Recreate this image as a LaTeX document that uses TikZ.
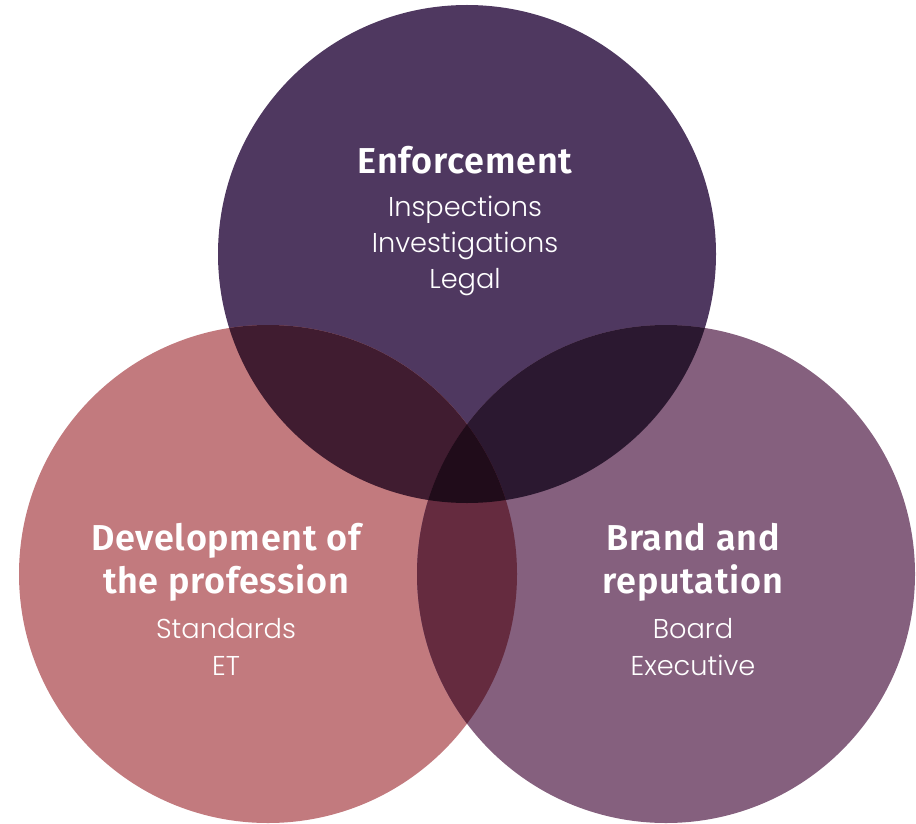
\documentclass[tikz,border=0pt]{standalone}
\usepackage{fontspec}
\usetikzlibrary{positioning}
\setmainfont{Fira Sans}
\newfontfamily\headfont{Fira Sans}[UprightFont=* SemiBold, LetterSpace=2]
\newfontfamily\itemfont{Poppins Light}

% Colours of the three circles and their overlaps
\definecolor{enfcol}{HTML}{4F3860}
\definecolor{devcol}{HTML}{C27A7E}
\definecolor{brandcol}{HTML}{85607E}
\definecolor{enfdevcol}{HTML}{401C30}
\definecolor{enfbrandcol}{HTML}{2B1830}
\definecolor{devbrandcol}{HTML}{652B3F}
\definecolor{allcol}{HTML}{200C1A}

\tikzset{
    heading/.style={text=white, align=center, font=\headfont\fontsize{20.5}{24.5}\selectfont, inner sep=0pt},
    items/.style={text=white, align=center, font=\itemfont\fontsize{15.5}{20.7}\selectfont, inner sep=0pt}
}

\begin{document}
\begin{tikzpicture}[x=0.02cm, y=0.02cm]
    \useasboundingbox (0,0) rectangle (916,823);

    % Centres of the three circles
    \coordinate (enf) at (467,569);
    \coordinate (dev) at (268,249);
    \coordinate (brand) at (666,249);
    \def\rad{249}

    % Draw circles
    \fill[enfcol] (enf) circle (\rad);
    \fill[devcol] (dev) circle (\rad);
    \fill[brandcol] (brand) circle (\rad);

    % Overlaps with the top circle
    \begin{scope}
        \clip (enf) circle (\rad);
        \fill[enfdevcol] (dev) circle (\rad);
        \fill[enfbrandcol] (brand) circle (\rad);
    \end{scope}

    % Overlap of the lower circles, and the middle piece
    \begin{scope}
        \clip (dev) circle (\rad);
        \fill[devbrandcol] (brand) circle (\rad);
        \clip (enf) circle (\rad);
        \fill[allcol] (brand) circle (\rad);
    \end{scope}

    % Labels
    \node[heading] (enfhead) at (465,663) {Enforcement};
    \node[items, below=12pt of enfhead] (enflist) {Inspections\\Investigations\\Legal};

    \node[heading] (devhead) at (226,261) {Development of\\the profession};
    \node[items, below=9.5pt of devhead] (devlist) {Standards\\ET};

    \node[heading] (brandhead) at (693,261) {Brand and\\reputation};
    \node[items, below=9.5pt of brandhead] (brandlist) {Board\\Executive};
\end{tikzpicture}
\end{document}
